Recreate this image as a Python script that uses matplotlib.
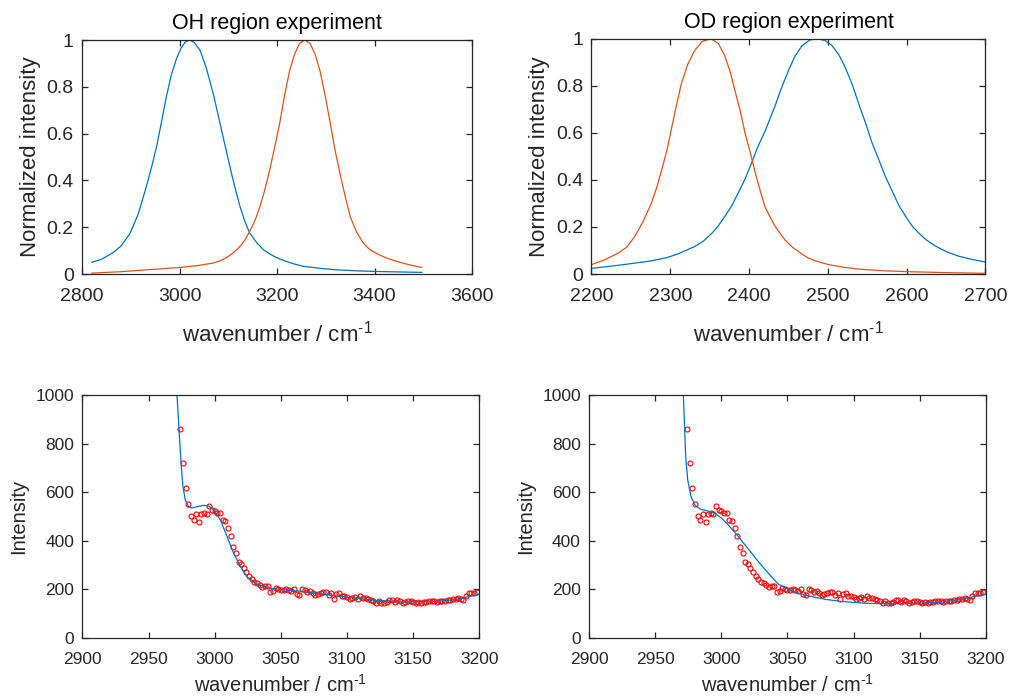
import matplotlib
matplotlib.use("Agg")
import matplotlib.pyplot as plt
from matplotlib.ticker import FuncFormatter

plt.rcParams["font.family"] = ["Liberation Sans", "DejaVu Sans"]
plt.rcParams["mathtext.fontset"] = "custom"
plt.rcParams["mathtext.rm"] = "Liberation Sans"
plt.rcParams["mathtext.it"] = "Liberation Sans"

BLUE = "#0072BD"
ORANGE = "#D95319"
AXC = "#262626"

# OH region (top left), curves
oh_blue_x = [2820, 2840, 2864, 2880, 2898, 2915, 2932, 2943, 2953, 2963, 2973, 2983, 2994,
             3003, 3012, 3021, 3030, 3042, 3055, 3069, 3083, 3097, 3110, 3124, 3134, 3144,
             3158, 3172, 3190, 3206, 3230, 3254, 3290, 3322, 3360, 3402, 3450, 3497]
oh_blue_y = [0.050, 0.063, 0.092, 0.120, 0.172, 0.255, 0.374, 0.46, 0.545, 0.65, 0.758, 0.85, 0.922,
             0.965, 0.992, 1.0, 0.99, 0.957, 0.88, 0.772, 0.645, 0.516, 0.40, 0.289, 0.225, 0.175,
             0.135, 0.104, 0.080, 0.064, 0.046, 0.033, 0.024, 0.018, 0.014, 0.011, 0.009, 0.007]
oh_orange_x = [2820, 2880, 2932, 3001, 3040, 3069, 3085, 3097, 3110, 3124, 3134, 3144, 3155,
               3165, 3175, 3185, 3196, 3206, 3216, 3226, 3236, 3246, 3257, 3268, 3278, 3288,
               3298, 3308, 3318, 3329, 3340, 3350, 3363, 3377, 3390, 3405, 3425, 3446, 3470, 3497]
oh_orange_y = [0.004, 0.010, 0.018, 0.028, 0.037, 0.047, 0.058, 0.071, 0.090, 0.118, 0.145, 0.182, 0.23,
               0.289, 0.36, 0.445, 0.55, 0.65, 0.77, 0.87, 0.94, 0.985, 1.0, 0.985, 0.94, 0.87,
               0.77, 0.659, 0.54, 0.431, 0.33, 0.246, 0.18, 0.132, 0.105, 0.087, 0.068, 0.054, 0.040, 0.028]

# OD region (top right)
od_orange_x = [2200, 2217, 2234, 2245, 2255, 2265, 2276, 2283, 2289, 2296, 2302, 2308, 2314,
               2322, 2331, 2341, 2352, 2361, 2369, 2376, 2382, 2389, 2395, 2402, 2408, 2414,
               2420, 2427, 2433, 2440, 2446, 2454, 2465, 2475, 2488, 2501, 2520, 2539, 2570,
               2602, 2650, 2700]
od_orange_y = [0.040, 0.061, 0.089, 0.115, 0.160, 0.22, 0.301, 0.37, 0.442, 0.53, 0.626, 0.72, 0.809,
               0.89, 0.951, 0.99, 1.0, 0.98, 0.929, 0.86, 0.781, 0.69, 0.597, 0.51, 0.428, 0.355,
               0.287, 0.24, 0.203, 0.17, 0.143, 0.117, 0.090, 0.068, 0.052, 0.040, 0.029, 0.021, 0.014,
               0.010, 0.006, 0.003]
od_blue_x = [2200, 2234, 2276, 2296, 2310, 2331, 2342, 2353, 2361, 2369, 2378, 2386, 2395,
             2403, 2411, 2420, 2427, 2433, 2441, 2450, 2458, 2467, 2477, 2487, 2496, 2505,
             2514, 2522, 2531, 2539, 2548, 2556, 2565, 2573, 2582, 2590, 2599, 2607, 2616,
             2624, 2635, 2645, 2655, 2666, 2683, 2700]
od_blue_y = [0.024, 0.037, 0.056, 0.070, 0.086, 0.117, 0.140, 0.174, 0.205, 0.244, 0.29, 0.343, 0.405,
             0.470, 0.54, 0.605, 0.665, 0.715, 0.79, 0.865, 0.925, 0.970, 0.995, 1.0, 0.993, 0.972,
             0.932, 0.878, 0.805, 0.725, 0.64, 0.558, 0.483, 0.414, 0.35, 0.292, 0.243, 0.204, 0.172,
             0.147, 0.122, 0.104, 0.089, 0.076, 0.062, 0.051]

# measured spectrum (bottom panels)
spec_x = [2974, 2976, 2978, 2980, 2982, 2984, 2986, 2988, 2990, 2992, 2994, 2996, 2998, 3000,
          3002, 3004, 3006, 3008, 3010, 3012, 3014, 3016, 3018, 3020, 3022, 3024, 3026, 3028,
          3030, 3032, 3034, 3036, 3038, 3040, 3042, 3044, 3046, 3048, 3050, 3052, 3054, 3056,
          3058, 3060, 3062, 3064, 3066, 3068, 3070, 3072, 3074, 3076, 3078, 3080, 3082, 3084,
          3086, 3088, 3090, 3092, 3094, 3096, 3098, 3100, 3102, 3104, 3106, 3108, 3110, 3112,
          3114, 3116, 3118, 3120, 3122, 3124, 3126, 3128, 3130, 3132, 3134, 3136, 3138, 3140,
          3142, 3144, 3146, 3148, 3150, 3152, 3154, 3156, 3158, 3160, 3162, 3164, 3166, 3168,
          3170, 3172, 3174, 3176, 3178, 3180, 3182, 3184, 3186, 3188, 3190, 3192, 3194, 3196, 3198]
spec_y = [861, 720, 617, 553, 501, 487, 509, 477, 512, 514, 510, 545, 525, 523,
          514, 513, 486, 480, 453, 420, 374, 348, 313, 306, 289, 273, 257, 244,
          232, 225, 219, 211, 214, 213, 189, 195, 206, 202, 199, 198, 200, 198,
          192, 203, 182, 177, 202, 196, 191, 192, 184, 177, 182, 187, 188, 189,
          176, 185, 159, 182, 187, 174, 173, 167, 160, 166, 170, 159, 174, 163,
          165, 162, 156, 154, 145, 154, 145, 143, 148, 158, 156, 148, 156, 151,
          143, 148, 151, 151, 147, 143, 150, 145, 147, 148, 151, 151, 152, 150,
          154, 152, 154, 155, 155, 159, 162, 165, 160, 158, 173, 184, 185, 187, 189]

# fitted curves (bottom panels)
fit1_x = [2969, 2971.5, 2972.5, 2973.5, 2974.8, 2976, 2977.8, 2980.3, 2982.8, 2986.6, 2991.7,
          2995.5, 2999.2, 3004.3, 3009.4, 3014.4, 3019.5, 3024.5, 3032, 3040, 3049, 3067.5,
          3092.7, 3118, 3143, 3168.4, 3183.5, 3200]
fit1_y = [1300, 1000, 911, 815, 705, 623, 568, 540, 535, 540, 546,
          543, 527, 486, 417, 348, 294, 252, 221, 207, 200, 191,
          173, 156, 148, 151, 159, 181]
fit2_x = [2969, 2971.2, 2972, 2973, 2974.5, 2977, 2980, 2983.8, 2988.8, 2995.2, 3000.3, 3005.3,
          3012.9, 3020.5, 3028, 3035.6, 3043, 3053.3, 3066, 3078.6, 3091.2, 3108.9, 3129,
          3149.3, 3167, 3182, 3200]
fit2_y = [1300, 1000, 883, 746, 650, 582, 547, 531, 524, 513, 492, 465,
          417, 365, 314, 266, 222, 193, 173, 159, 150, 143, 140,
          143, 148, 159, 181]

fig = plt.figure(figsize=(10.09, 6.98), dpi=100)
ax1 = fig.add_axes([0.0813, 0.6074, 0.3865, 0.3352])
ax2 = fig.add_axes([0.5862, 0.6074, 0.3905, 0.3370])
ax3 = fig.add_axes([0.0816, 0.0860, 0.3935, 0.3481])
ax4 = fig.add_axes([0.5840, 0.0860, 0.3929, 0.3481])

gfmt = FuncFormatter(lambda v, p: "%g" % round(v, 6))
xlab = r"wavenumber / cm$^{\text{-}1}$"


def style(ax, fs, xpad):
    for s in ax.spines.values():
        s.set_color(AXC)
        s.set_linewidth(0.9)
    ax.tick_params(direction="in", top=True, right=True, length=4, width=0.9,
                   colors=AXC, labelsize=fs, labelcolor=AXC)
    ax.tick_params(axis="x", pad=xpad)
    ax.tick_params(axis="y", pad=6)
    ax.yaxis.set_major_formatter(gfmt)
    ax.xaxis.set_major_formatter(gfmt)


ax1.plot(oh_blue_x, oh_blue_y, color=BLUE, lw=0.9)
ax1.plot(oh_orange_x, oh_orange_y, color=ORANGE, lw=0.9)
ax1.set_xlim(2800, 3600)
ax1.set_ylim(0, 1)
ax1.set_xticks([2800, 3000, 3200, 3400, 3600])
ax1.set_yticks([0, 0.2, 0.4, 0.6, 0.8, 1])
ax1.set_title("OH region experiment", fontsize=15.5, color="black", pad=8)
ax1.set_ylabel("Normalized intensity", fontsize=16, color=AXC, labelpad=4)
ax1.set_xlabel(xlab, fontsize=16, color=AXC, labelpad=11)
style(ax1, 14, 10)

ax2.plot(od_blue_x, od_blue_y, color=BLUE, lw=0.9)
ax2.plot(od_orange_x, od_orange_y, color=ORANGE, lw=0.9)
ax2.set_xlim(2200, 2700)
ax2.set_ylim(0, 1)
ax2.set_xticks([2200, 2300, 2400, 2500, 2600, 2700])
ax2.set_yticks([0, 0.2, 0.4, 0.6, 0.8, 1])
ax2.set_title("OD region experiment", fontsize=15.5, color="black", pad=8)
ax2.set_ylabel("Normalized intensity", fontsize=16, color=AXC, labelpad=4)
ax2.set_xlabel(xlab, fontsize=16, color=AXC, labelpad=11)
style(ax2, 14, 10)

for ax, fx, fy in [(ax3, fit1_x, fit1_y), (ax4, fit2_x, fit2_y)]:
    ax.plot(spec_x, spec_y, "o", mfc="none", mec="red", ms=3.6, mew=0.8)
    ax.plot(fx, fy, color=BLUE, lw=0.9)
    ax.set_xlim(2900, 3200)
    ax.set_ylim(0, 1000)
    ax.set_xticks([2900, 2950, 3000, 3050, 3100, 3150, 3200])
    ax.set_yticks([0, 200, 400, 600, 800, 1000])
    ax.set_ylabel("Intensity", fontsize=14.5, color=AXC, labelpad=5)
    ax.set_xlabel(xlab, fontsize=14.5, color=AXC, labelpad=5)
    style(ax, 12.5, 10)

fig.savefig("out.png", dpi=100)
